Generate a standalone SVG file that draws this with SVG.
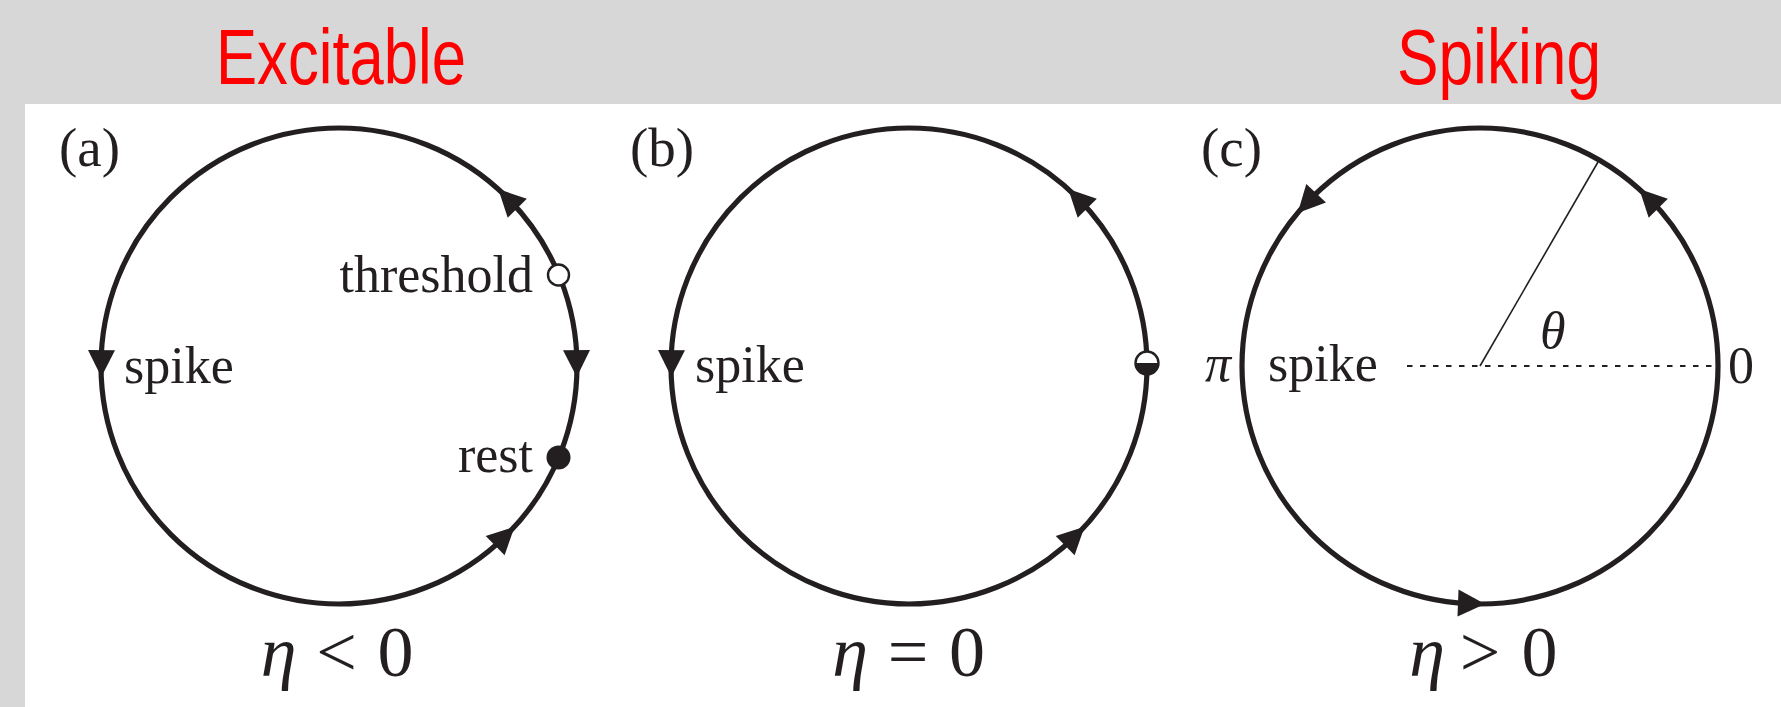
<svg xmlns="http://www.w3.org/2000/svg" width="1781" height="707" viewBox="0 0 1781 707">
<style>
.orbit{fill:none;stroke:#231f20;stroke-width:5.2}
.ah{fill:#231f20;stroke:none}
.lbl{font-family:"Liberation Serif","Times New Roman",serif;font-size:52px;fill:#231f20}
.tag{font-family:"Liberation Serif","Times New Roman",serif;font-size:55px;fill:#231f20}
.math{font-family:"Liberation Serif","Times New Roman",serif;font-size:72px;fill:#231f20;text-anchor:middle}
.it{font-style:italic}
.title{font-family:"Liberation Sans Narrow","Liberation Sans",Arial,sans-serif;font-size:78px;fill:#ff0000}
</style>
<rect x="0" y="0" width="1781" height="707" fill="#d7d7d7"/>
<rect x="25" y="104" width="1756" height="603" fill="#ffffff"/>

<g id="title-excitable"><text class="title" x="216" y="84" textLength="250" lengthAdjust="spacingAndGlyphs">Excitable</text></g>
<g id="title-spiking"><text class="title" x="1397" y="84" textLength="204" lengthAdjust="spacingAndGlyphs">Spiking</text></g>

<g id="connectors">
  <g id="flow-a">
    <circle class="orbit" cx="339" cy="366" r="238"/>
    <polygon class="ah" points="498.3,189.1 526.8,198.8 507.7,217.8"/>
    <polygon class="ah" points="101.3,377 115.0,350.2 88.0,349.9"/>
    <polygon class="ah" points="576.8,377 590.0,349.9 563.0,350.2"/>
    <polygon class="ah" points="514.5,526.8 485.7,536.0 504.6,555.3"/>
  </g>
  <g id="flow-b">
    <circle class="orbit" cx="909" cy="366" r="238"/>
    <polygon class="ah" points="1068.3,189.1 1096.8,198.8 1077.7,217.8"/>
    <polygon class="ah" points="671.3,377 685.0,350.2 658.0,349.9"/>
    <polygon class="ah" points="1084.5,526.8 1055.7,536.0 1074.6,555.3"/>
  </g>
  <g id="flow-c">
    <circle class="orbit" cx="1480" cy="366" r="238"/>
    <polygon class="ah" points="1639.3,189.1 1667.8,198.8 1648.7,217.8"/>
    <polygon class="ah" points="1297.7,213.0 1326.0,202.6 1306.3,184.1"/>
    <polygon class="ah" points="1485.0,604.0 1458.5,589.5 1457.5,616.5"/>
  </g>
</g>

<g id="panel-a">
  <text class="tag" x="59" y="166">(a)</text>
  <text class="lbl" x="124" y="383">spike</text>
  <text class="lbl" x="533" y="292" text-anchor="end">threshold</text>
  <text class="lbl" x="533" y="472" text-anchor="end">rest</text>
  <g id="threshold-point"><circle cx="558.5" cy="275" r="10.5" fill="#ffffff" stroke="#231f20" stroke-width="2.4"/></g>
  <g id="rest-point"><circle cx="558.5" cy="457.5" r="12" fill="#231f20"/></g>
  <text class="math" y="676"><tspan class="it" x="278.5">η</tspan><tspan x="336.5">&lt;</tspan><tspan x="395.5">0</tspan></text>
</g>

<g id="panel-b">
  <text class="tag" x="630" y="166">(b)</text>
  <text class="lbl" x="695" y="382">spike</text>
  <g id="saddle-point">
    <circle cx="1147" cy="363" r="11.5" fill="#ffffff" stroke="#231f20" stroke-width="2.4"/>
    <path d="M1135.5,363 A11.5,11.5 0 0 0 1158.5,363 Z" fill="#231f20"/>
  </g>
  <text class="math" y="676"><tspan class="it" x="850">η</tspan><tspan x="908">=</tspan><tspan x="967">0</tspan></text>
</g>

<g id="panel-c">
  <text class="tag" x="1201" y="166">(c)</text>
  <line x1="1407" y1="366" x2="1716" y2="366" stroke="#231f20" stroke-width="1.8" stroke-dasharray="5.5 7.5"/>
  <line x1="1480" y1="366" x2="1598" y2="162" stroke="#231f20" stroke-width="1.6"/>
  <text class="lbl it" x="1540" y="348">θ</text>
  <text class="lbl it" x="1205" y="381">π</text>
  <text class="lbl" x="1268" y="381">spike</text>
  <text class="lbl" x="1728" y="383">0</text>
  <text class="math" y="676"><tspan class="it" x="1427">η</tspan><tspan x="1480">&gt;</tspan><tspan x="1539.5">0</tspan></text>
</g>
</svg>
